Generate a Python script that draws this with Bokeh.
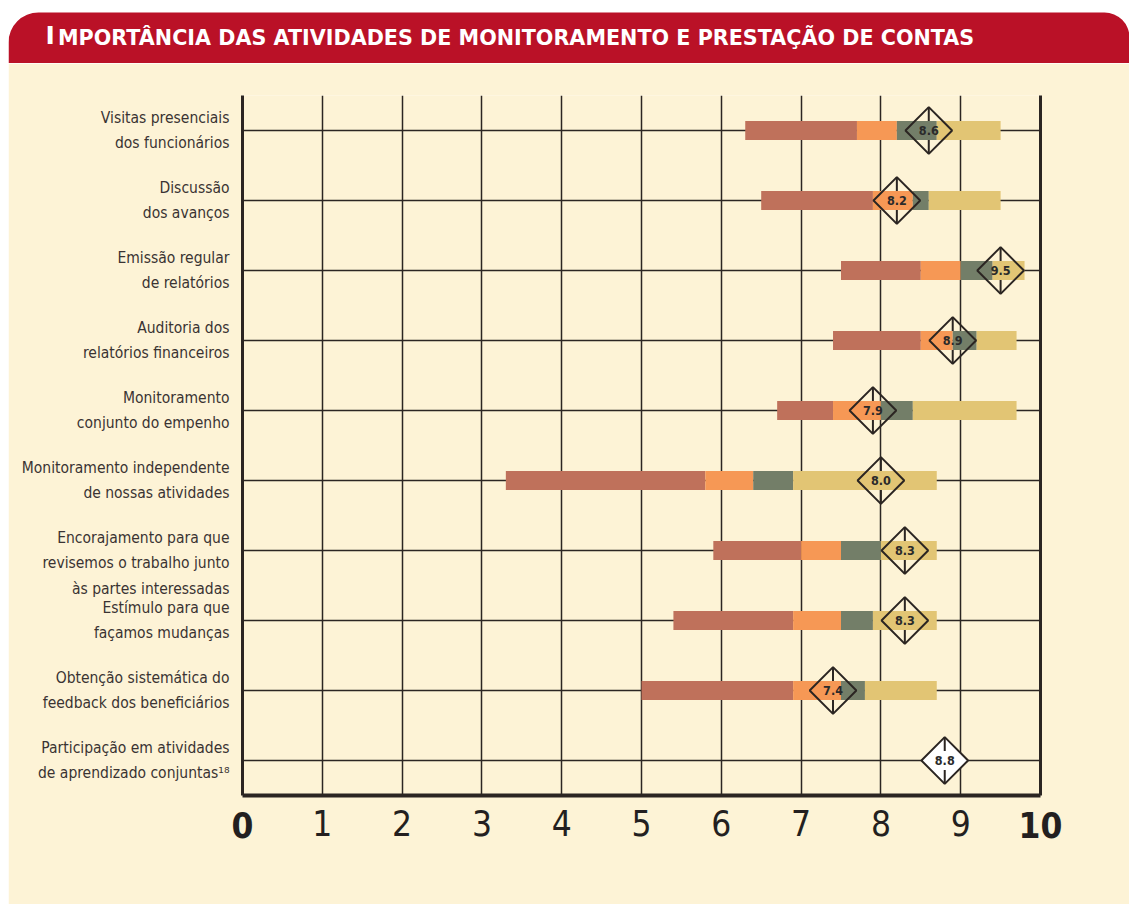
import numpy as np
from bokeh.plotting import figure
from bokeh.models import ColumnDataSource, FixedTicker, LinearAxis, Range1d
from bokeh.core.properties import value
from bokeh.embed import file_html
from bokeh.resources import INLINE

# ---------------- data ----------------
title_initial = "I"
title_rest = "MPORTÂNCIA DAS ATIVIDADES DE MONITORAMENTO E PRESTAÇÃO DE CONTAS"

categories = [
    "Visitas presenciais\ndos funcionários",
    "Discussão\ndos avanços",
    "Emissão regular\nde relatórios",
    "Auditoria dos\nrelatórios financeiros",
    "Monitoramento\nconjunto do empenho",
    "Monitoramento independente\nde nossas atividades",
    "Encorajamento para que\nrevisemos o trabalho junto\nàs partes interessadas",
    "Estímulo para que\nfaçamos mudanças",
    "Obtenção sistemática do\nfeedback dos beneficiários",
    "Participação em atividades\nde aprendizado conjuntas¹⁸",
]

# segment boundaries of each bar (the last category has no bar)
bar_start  = [6.3, 6.5, 7.5, 7.4, 6.7, 3.3, 5.9, 5.4, 5.0]
red_end    = [7.7, 7.9, 8.5, 8.5, 7.4, 5.8, 7.0, 6.9, 6.9]
orange_end = [8.2, 8.4, 9.0, 8.9, 8.0, 6.4, 7.5, 7.5, 7.5]
green_end  = [8.7, 8.6, 9.4, 9.2, 8.4, 6.9, 8.0, 7.9, 7.8]
bar_end    = [9.5, 9.5, 9.8, 9.7, 9.7, 8.7, 8.7, 8.7, 8.7]

# average score shown in the diamonds
means = [8.6, 8.2, 9.5, 8.9, 7.9, 8.0, 8.3, 8.3, 7.4, 8.8]

x_ticks = [0, 1, 2, 3, 4, 5, 6, 7, 8, 9, 10]

# ---------------- style ----------------
FONT = "'Liberation Sans Narrow', 'DejaVu Sans Condensed', 'Open Sans', sans-serif"
TITLE_FONT = "'DejaVu Sans', sans-serif"
DARK = "#2b2522"
CREAM = "#fdf3d6"
BANNER = "#ba1127"
C_RED = "#bf715b"
C_ORANGE = "#f69855"
C_GREEN = "#737e68"
C_YELLOW = "#e2c574"

W = 1121
BANNER_H = 63
CHART_H = 841
TICK_STANDOFF = 14
TICK_FONT_PX = 35

# ---------------- banner ----------------
bp = figure(width=W, height=BANNER_H, x_range=Range1d(0, W), y_range=Range1d(BANNER_H, 0),
            toolbar_location=None, output_backend="svg", min_border=0,
            x_axis_location=None, y_axis_location=None,
            background_fill_color="white", border_fill_color="white",
            outline_line_color=None, margin=(0, 0, 0, 8))
bp.grid.visible = False
bp.quad(left=[0], right=[W], top=[12], bottom=[BANNER_H], fill_color=BANNER, line_color=None,
        border_radius=(30, 25, 0, 0))
bp.text(x=[37], y=[34.5], text=[title_initial], text_color="white", text_font=value(TITLE_FONT),
        text_font_size="25px", text_font_style="bold", text_baseline="middle")
bp.text(x=[49.5], y=[37], text=[title_rest], text_color="white", text_font=value(TITLE_FONT),
        text_font_size="20.7px", text_font_style="bold", text_baseline="middle")

# ---------------- chart ----------------
n = len(categories)
ypos = [n - 1 - i for i in range(n)]
nb = len(bar_start)

p = figure(width=W, height=CHART_H, x_range=Range1d(0, 10), y_range=Range1d(-0.5, n - 0.5),
           toolbar_location=None, output_backend="svg", margin=(0, 0, 0, 8),
           min_border_left=234, min_border_right=89, min_border_top=32, min_border_bottom=109,
           background_fill_color=CREAM, border_fill_color=CREAM, outline_line_color=None)

# bottom axis: inner values 1..9
p.xaxis.ticker = FixedTicker(ticks=x_ticks[1:-1])
p.xaxis.axis_line_width = 4
p.xaxis.axis_line_color = DARK
p.xaxis.major_tick_out = 0
p.xaxis.major_tick_in = 0
p.xaxis.minor_tick_out = 0
p.xaxis.minor_tick_in = 0
p.xaxis.major_label_standoff = TICK_STANDOFF
p.xaxis.major_label_text_font = FONT
p.xaxis.major_label_text_font_size = f"{TICK_FONT_PX}px"
p.xaxis.major_label_text_color = "#231f20"

# second bottom axis: bold end values 0 and 10, pulled up onto the same line
ends = LinearAxis(ticker=FixedTicker(ticks=[x_ticks[0], x_ticks[-1]]), axis_line_color=None,
                  major_tick_out=0, minor_tick_out=0, major_tick_in=0, minor_tick_in=0,
                  major_label_standoff=-27, major_label_text_font=FONT,
                  major_label_text_font_size=f"{TICK_FONT_PX}px",
                  major_label_text_font_style="bold", major_label_text_color="#231f20")
p.add_layout(ends, "below")


def hang(label):
    # multi-line labels with an odd number of lines get a blank first line so that
    # their first line sits just above the row line, as in the original layout
    k = label.count("\n") + 1
    return ("\n" + label) if (k > 2 and k % 2 == 1) else label


p.yaxis.ticker = FixedTicker(ticks=ypos)
p.yaxis.major_label_overrides = {y: hang(c) for y, c in zip(ypos, categories)}
p.yaxis.axis_line_width = 3
p.yaxis.axis_line_color = DARK
p.yaxis.major_tick_out = 0
p.yaxis.major_tick_in = 0
p.yaxis.minor_tick_out = 0
p.yaxis.minor_tick_in = 0
p.yaxis.major_label_standoff = 13
p.yaxis.major_label_text_font = FONT
p.yaxis.major_label_text_font_size = "15.5px"
p.yaxis.major_label_text_line_height = 1.42
p.yaxis.major_label_text_color = "#3a3333"

right = LinearAxis(ticker=FixedTicker(ticks=[]), axis_line_width=3, axis_line_color=DARK,
                   major_tick_out=0, minor_tick_out=0, major_tick_in=0, minor_tick_in=0,
                   major_label_text_font_size="0px")
p.add_layout(right, "right")

p.xgrid.ticker = FixedTicker(ticks=x_ticks[1:-1])
p.xgrid.grid_line_color = DARK
p.xgrid.grid_line_width = 1.5
p.ygrid.ticker = FixedTicker(ticks=ypos)
p.ygrid.grid_line_color = DARK
p.ygrid.grid_line_width = 1.3

# bars
bsrc = ColumnDataSource(dict(y=ypos[:nb], a=bar_start, b=red_end, c=orange_end,
                             d=green_end, e=bar_end))
BH = 19 / 70
for l, r, col in (("a", "b", C_RED), ("b", "c", C_ORANGE), ("c", "d", C_GREEN), ("d", "e", C_YELLOW)):
    p.hbar(y="y", left=l, right=r, height=BH, fill_color=col, line_color=None, source=bsrc)

# diamonds
ys = np.array(ypos, dtype=float)
msrc = ColumnDataSource(dict(
    x=means, y=ypos, label=[f"{m:.1f}" for m in means],
    alpha=[0.0 if i < nb else 1.0 for i in range(n)],
    t0=ys + 9.5 / 70, t1=ys + 23.5 / 70, b0=ys - 9.5 / 70, b1=ys - 23.5 / 70,
))
p.scatter(x="x", y="y", marker="square", size=33, angle=np.pi / 4, fill_color="white",
          fill_alpha="alpha", line_color=DARK, line_width=2, source=msrc)
p.segment(x0="x", y0="t0", x1="x", y1="t1", line_color=DARK, line_width=2, source=msrc)
p.segment(x0="x", y0="b0", x1="x", y1="b1", line_color=DARK, line_width=2, source=msrc)
p.text(x="x", y="y", text="label", text_align="center", text_baseline="middle",
       text_font=value(FONT), text_font_style="bold", text_font_size="12.5px",
       text_color="#2a2a2a", source=msrc)

open("out.html", "w").write(file_html([bp, p], INLINE))
